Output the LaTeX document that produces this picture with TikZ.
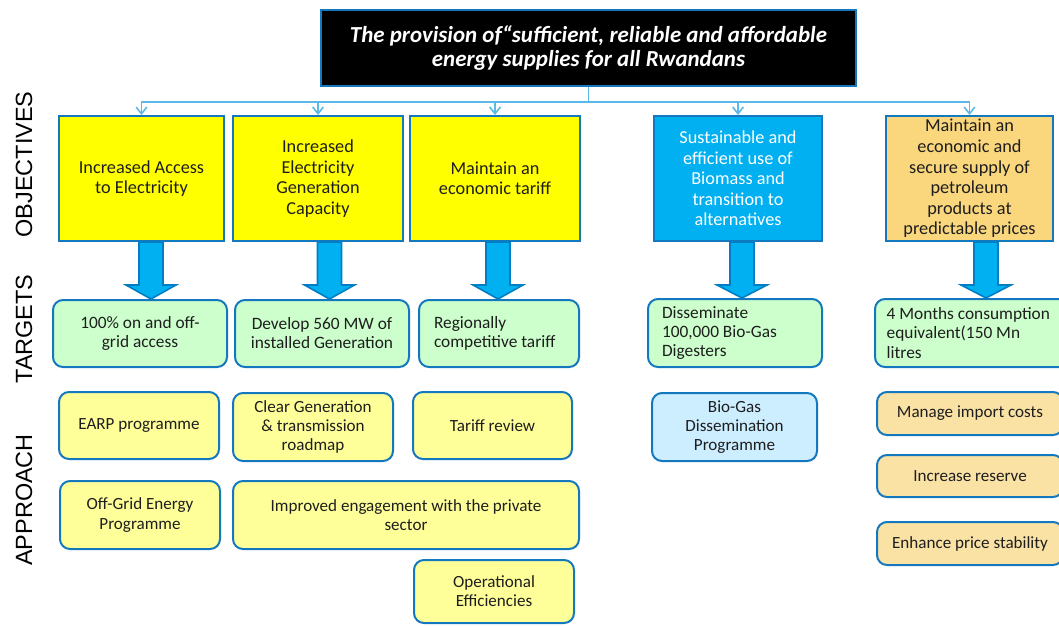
\documentclass[tikz,border=0pt]{standalone}
\usepackage{fontspec}
\setmainfont{Carlito}
\newfontfamily\labelfont{Liberation Sans}
\usetikzlibrary{arrows.meta}

\definecolor{edgeblue}{RGB}{20,120,190}
\definecolor{linkblue}{RGB}{90,185,230}
\definecolor{arrowcyan}{RGB}{0,176,240}
\definecolor{arrowedge}{RGB}{0,125,195}
\definecolor{objyellow}{RGB}{255,255,0}
\definecolor{objcyan}{RGB}{0,176,240}
\definecolor{objorange}{RGB}{250,215,125}
\definecolor{tgtgreen}{RGB}{204,255,204}
\definecolor{appyellow}{RGB}{255,255,153}
\definecolor{appblue}{RGB}{204,238,255}
\definecolor{apporange}{RGB}{250,226,165}
\definecolor{textgrey}{RGB}{30,30,30}

\newcommand{\blockarrow}[3]{%
  \draw[blockarrow] ({#3-12},0 |- #1.south) -- ({#3+12},0 |- #1.south) -- ({#3+12},285)
    -- ({#3+25},285) -- (#3,0 |- #2.north) -- ({#3-25},285) -- ({#3-12},285) -- cycle;}

\begin{document}
\begin{tikzpicture}
  [x=0.75pt,y=-0.75pt,
    every node/.style={draw=edgeblue,line width=1.5pt,align=center,inner sep=2pt,text=textgrey},
    wh/.style 2 args={minimum width=#1*0.75pt,minimum height=#2*0.75pt},
    goal/.style={fill=black,text=white,font=\bfseries\itshape\fontsize{17.2}{17.3}\selectfont},
    objective/.style={fill=objyellow,font=\fontsize{13.7}{15.4}\selectfont},
    target/.style={rounded corners=7.5pt,fill=tgtgreen,font=\fontsize{13}{14.3}\selectfont},
    approach/.style={rounded corners=7.5pt,fill=appyellow,font=\fontsize{12.8}{14.3}\selectfont},
    rowlabel/.style={draw=none,rotate=90,text=black,font=\labelfont\fontsize{17.6}{20}\selectfont},
    link/.style={draw=linkblue,line width=1.2pt,-{Straight Barb[length=5pt,width=8pt]}},
    blockarrow/.style={fill=arrowcyan,draw=arrowedge,line width=1.2pt},
  ]
  \useasboundingbox (0,0) rectangle (1059,625);
  \clip (0,0) rectangle (1059,625);

  \node[goal,wh={535}{76}] (goal) at (588.5,48)
    {The provision of“sufficient, reliable and affordable\\energy supplies for all Rwandans};

  \node[rowlabel] (objlabel) at (24,164.5) {OBJECTIVES};
  \node[rowlabel] (tgtlabel) at (24,329) {TARGETS};
  \node[rowlabel] (applabel) at (24,500) {APPROACH};

  \node[objective,wh={165}{125}] (o1) at (141.5,178.5) {Increased Access\\to Electricity};
  \node[objective,wh={170}{125}] (o2) at (318,178.5) {Increased\\Electricity\\Generation\\Capacity};
  \node[objective,wh={170}{125}] (o3) at (495,178.5) {Maintain an\\economic tariff};
  \node[objective,wh={168}{125},fill=objcyan,text=white] (o4) at (738,178.5)
    {Sustainable and\\efficient use of\\Biomass and\\transition to\\alternatives};
  \node[objective,wh={167}{125},fill=objorange] (o5) at (969.5,178.5)
    {Maintain an\\economic and\\secure supply of\\petroleum\\products at\\predictable prices};

  \draw[link] (goal.south) -- ++(0,15) -| (o1.north);
  \draw[link] (goal.south) -- ++(0,15) -| (o2.north);
  \draw[link] (goal.south) -- ++(0,15) -| (o3.north);
  \draw[link] (goal.south) -- ++(0,15) -| (o4.north);
  \draw[link] (goal.south) -- ++(0,15) -| (o5.north);

  \node[target,wh={174}{67}] (t1) at (140,333.5) {100\% on and off-\\grid access};
  \node[target,wh={174}{67}] (t2) at (322,333.5) {Develop 560 MW of\\installed Generation};
  \node[target,wh={160}{67},align=flush left,text width=97.5pt] (t3) at (499,333.5)
    {Regionally\\competitive tariff};
  \node[target,wh={174}{68},align=flush left,text width=109.5pt] (t4) at (735,333)
    {Disseminate\\100,000 Bio-Gas\\Digesters};
  \node[target,wh={210}{68},align=flush left,text width=140pt] (t5) at (980,333)
    {4 Months consumption\\equivalent(150 Mn\\litres};

  \blockarrow{o1}{t1}{151}
  \blockarrow{o2}{t2}{329.5}
  \blockarrow{o3}{t3}{498}
  \blockarrow{o4}{t4}{742}
  \blockarrow{o5}{t5}{986}

  \node[approach,wh={160}{67}] (a1) at (139,425.5) {EARP programme};
  \node[approach,wh={160}{68}] (a2) at (313,427) {Clear Generation\\\& transmission\\roadmap};
  \node[approach,wh={159}{67}] (a3) at (492.5,425.5) {Tariff review};
  \node[approach,wh={160}{68}] (a4) at (140,515) {Off-Grid Energy\\Programme};
  \node[approach,wh={346}{68}] (a5) at (406,515) {Improved engagement with the private\\sector};
  \node[approach,wh={160}{63}] (a6) at (494,591.5) {Operational\\Efficiencies};
  \node[approach,wh={165}{68},fill=appblue] (a7) at (734.5,427) {Bio-Gas\\Dissemination\\Programme};
  \node[approach,wh={186}{43},fill=apporange] (a8) at (970,413.5) {Manage import costs};
  \node[approach,wh={186}{42},fill=apporange] (a9) at (970,476) {Increase reserve};
  \node[approach,wh={186}{43},fill=apporange] (a10) at (970,543.5) {Enhance price stability};
\end{tikzpicture}
\end{document}
